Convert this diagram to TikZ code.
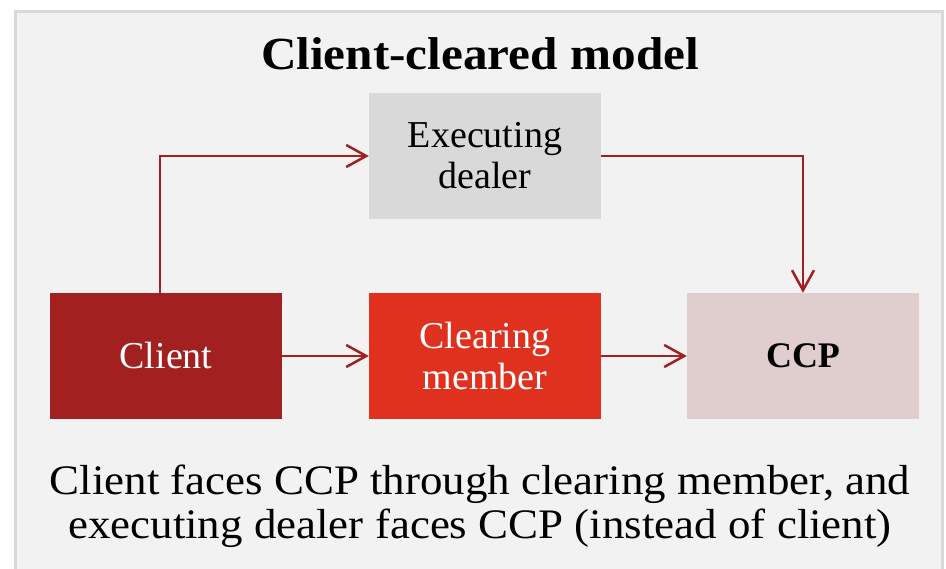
\documentclass[tikz,border=0pt]{standalone}
\usepackage{fontspec}
\setmainfont{Liberation Serif}
\newfontfamily\widefont[FakeStretch=1.07]{Liberation Serif}
\usetikzlibrary{arrows.meta}
\definecolor{panelfill}{HTML}{F2F2F2}
\definecolor{panelline}{HTML}{D9D9D9}
\definecolor{darkred}{HTML}{A32020}
\definecolor{brightred}{HTML}{E0301E}
\definecolor{lightgrey}{HTML}{D9D9D9}
\definecolor{pinkgrey}{HTML}{E0CDCD}
\tikzset{
  box/.style={minimum width=232pt, minimum height=126pt, inner sep=0pt, align=center, font=\fontsize{38}{41}\selectfont},
  conn/.style={draw=darkred, line width=2.5pt, -{Straight Barb[length=20pt,width=22pt]}},
  captext/.style={anchor=base, inner sep=0pt, font=\widefont\fontsize{42}{45}\selectfont},
}
\begin{document}
\begin{tikzpicture}[x=1pt,y=-1pt]
\useasboundingbox (0,0) rectangle (946,569);
\fill[white] (0,0) rectangle (946,569);
\draw[fill=panelfill, draw=panelline, line width=3pt] (15.5,11.5) rectangle (942.5,600);
\node[anchor=base, inner sep=0pt, font=\widefont\bfseries\fontsize{46}{50}\selectfont] (title) at (480,70) {Client-cleared model};
\node[box, fill=lightgrey] (exec) at (485,156) {Executing\\dealer};
\node[box, fill=darkred, text=white] (client) at (166,356) {Client};
\node[box, fill=brightred, text=white] (cm) at (485,356) {Clearing\\member};
\node[box, fill=pinkgrey, font=\bfseries\fontsize{36}{41}\selectfont] (ccp) at (803,356) {CCP};
\draw[conn] (client.north -| 160,0) |- (exec.west);
\draw[conn] (exec.east) -| (ccp.north -| 803,0);
\draw[conn] (client.east) -- (cm.west);
\draw[conn] (cm.east) -- (ccp.west);
\node[captext] (cap1) at (480,494) {Client faces CCP through clearing member, and};
\node[captext] (cap2) at (480,538) {executing dealer faces CCP (instead of client)};
\end{tikzpicture}
\end{document}
